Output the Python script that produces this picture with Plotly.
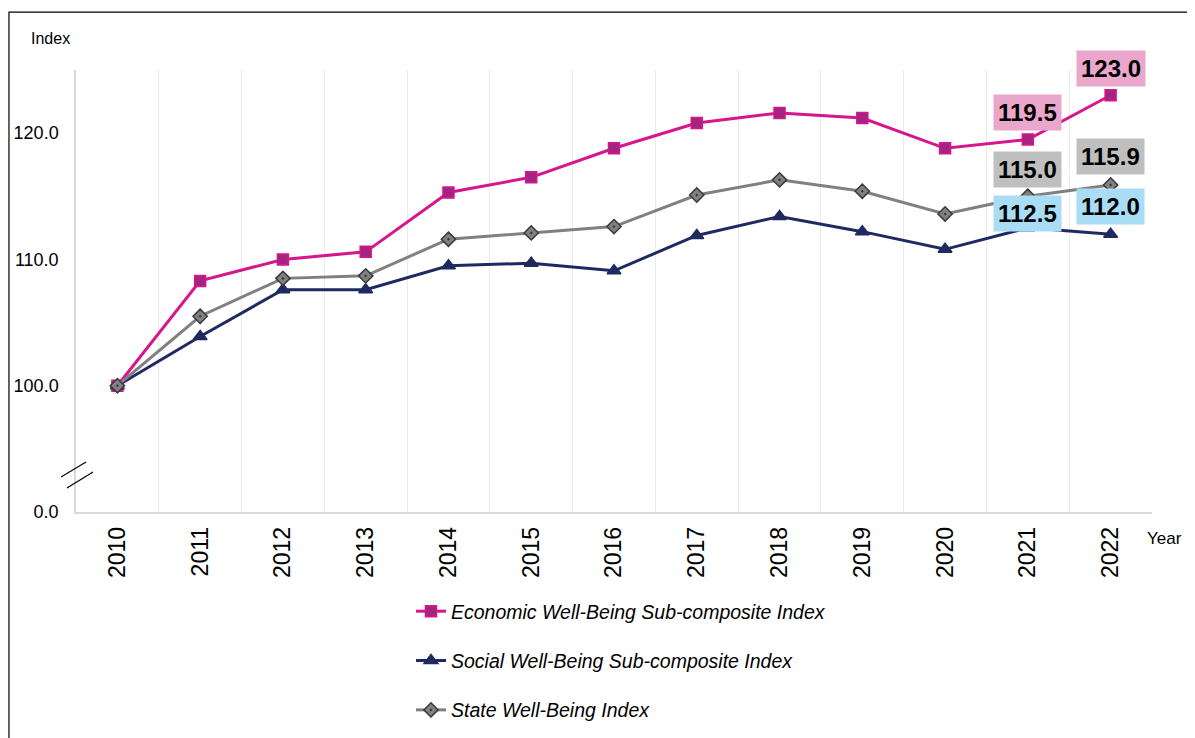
import plotly.graph_objects as go

# Data
years = ["2010", "2011", "2012", "2013", "2014", "2015", "2016",
         "2017", "2018", "2019", "2020", "2021", "2022"]
economic = [100.0, 108.3, 110.0, 110.6, 115.3, 116.5, 118.8,
            120.8, 121.6, 121.2, 118.8, 119.5, 123.0]
social = [100.0, 103.9, 107.6, 107.6, 109.5, 109.7, 109.1,
          111.9, 113.4, 112.2, 110.8, 112.5, 112.0]
state = [100.0, 105.5, 108.5, 108.7, 111.6, 112.1, 112.6,
         115.1, 116.3, 115.4, 113.6, 115.0, 115.9]
y_tickvals = [90, 100, 110, 120]
y_ticktext = ["0.0", "100.0", "110.0", "120.0"]

# Series styles
series = [
    ("Economic Well-Being Sub-composite Index", economic, "#D6168C", "#A4247F", "#D6168C", "square", 11),
    ("Social Well-Being Sub-composite Index", social, "#1F2A60", "#1F2A60", "#1F2A60", "triangle-up", 12),
    ("State Well-Being Index", state, "#808080", "#808080", "#3A3A3A", "diamond-dot", 11),
]
label_bg = {"economic": "#EBA6CB", "social": "#A9DCF5", "state": "#BFBFBF"}

fig = go.Figure()
for i, (name, vals, lc, mc, mlc, sym, size) in enumerate(series):
    fig.add_trace(go.Scatter(
        x=years, y=vals, mode="lines+markers", name=name, legendgroup=str(i),
        line=dict(color=lc, width=3),
        marker=dict(symbol=sym, size=size, color=mc, line=dict(color=mlc, width=1.5)),
        hovertemplate="%{x}: %{y:.1f}<extra></extra>"))

# Value labels for the last two years (yshift in px above the point)
labels = [
    (economic, label_bg["economic"], [27, 27]),
    (state, label_bg["state"], [27, 28]),
    (social, label_bg["social"], [14, 28]),
]
for vals, bg, shifts in labels:
    for k, idx in enumerate([11, 12]):
        fig.add_annotation(
            x=idx, y=vals[idx], text=f"<b>{vals[idx]:.1f}</b>",
            showarrow=False, yshift=shifts[k], bgcolor=bg, borderpad=4,
            xanchor="center", yanchor="middle",
            font=dict(size=24, color="black", family="Liberation Sans, Arial"))

# Axis titles
fig.add_annotation(x=-0.024, y=1.072, xref="paper", yref="paper", text="Index",
                   xanchor="center", yanchor="middle", showarrow=False, font=dict(size=16))
fig.add_annotation(x=1.012, y=-0.059, xref="paper", yref="paper", text="Year",
                   xanchor="center", yanchor="middle", showarrow=False, font=dict(size=17))

# Axis break marks and outer frame
for x0, y0, x1, y1 in [(-0.0139, 0.0792, 0.0093, 0.1131), (-0.0084, 0.0543, 0.0158, 0.0905)]:
    fig.add_shape(type="line", xref="paper", yref="paper", x0=x0, y0=y0, x1=x1, y1=y1,
                  line=dict(color="black", width=1.2))
fig.add_shape(type="rect", xref="paper", yref="paper", x0=-0.0623, y0=-1.0, x1=1.2, y1=1.131,
              line=dict(color="black", width=1.2))

fig.update_layout(
    width=1187, height=730,
    margin=dict(l=68, r=43, t=62, b=226, autoexpand=False),
    plot_bgcolor="white", paper_bgcolor="white",
    font=dict(family="Liberation Sans, Arial", size=18, color="black"),
    showlegend=True,
    legend=dict(x=0.3395, y=0.2, xref="container", yref="container",
                xanchor="left", yanchor="top",
                font=dict(size=19.5, style="italic"), tracegroupgap=21,
                bgcolor="rgba(0,0,0,0)"),
    xaxis=dict(type="category", range=[-0.5, 12.5], tickson="boundaries",
               showgrid=True, gridcolor="#EBEBEB", showline=True, linecolor="#D9D9D9",
               linewidth=1.5, ticks="", tickangle=-90, tickfont=dict(size=23),
               ticklabelstandoff=4, zeroline=False, automargin=False),
    yaxis=dict(range=[90, 125], tickvals=y_tickvals, ticktext=y_ticktext,
               showgrid=False, showline=True, linecolor="#D9D9D9", linewidth=1.5,
               ticks="", ticklabelstandoff=12, zeroline=False, automargin=False),
)

fig.write_html("out.html")
